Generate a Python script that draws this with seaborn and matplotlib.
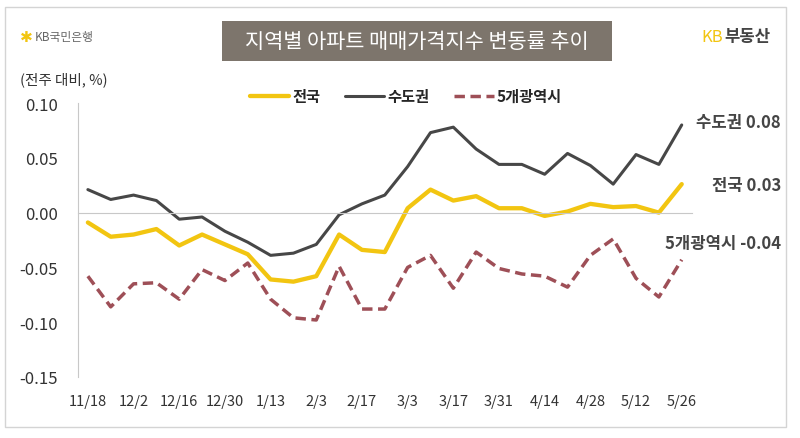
import numpy as np
import pandas as pd
import matplotlib
matplotlib.use("Agg")
import matplotlib.pyplot as plt
from matplotlib.patches import Rectangle
import seaborn as sns

# weekly change of apartment sale price index (%, vs previous week)
weeks = ["11/18", "11/25", "12/2", "12/9", "12/16", "12/23", "12/30", "1/6", "1/13", "1/20",
         "2/3", "2/10", "2/17", "2/24", "3/3", "3/10", "3/17", "3/24", "3/31", "4/7",
         "4/14", "4/21", "4/28", "5/5", "5/12", "5/19", "5/26"]
national = [-0.009, -0.022, -0.020, -0.015, -0.030, -0.020, -0.029, -0.038, -0.061, -0.063,
            -0.058, -0.020, -0.034, -0.036, 0.004, 0.021, 0.011, 0.015, 0.004, 0.004,
            -0.003, 0.001, 0.008, 0.005, 0.006, 0.000, 0.026]
capital = [0.021, 0.012, 0.016, 0.011, -0.006, -0.004, -0.017, -0.027, -0.039, -0.037,
           -0.029, -0.002, 0.008, 0.016, 0.042, 0.073, 0.078, 0.058, 0.044, 0.044,
           0.035, 0.054, 0.043, 0.026, 0.053, 0.044, 0.080]
metro5 = [-0.058, -0.086, -0.065, -0.064, -0.079, -0.052, -0.062, -0.046, -0.079, -0.096,
          -0.098, -0.049, -0.088, -0.088, -0.050, -0.039, -0.069, -0.036, -0.051, -0.056,
          -0.058, -0.068, -0.039, -0.024, -0.060, -0.077, -0.043]
series_names = ["전국", "수도권", "5개광역시"]
yticks = [-0.15, -0.10, -0.05, 0.00, 0.05, 0.10]

sns.set_style("white")
plt.rcParams["font.family"] = ["Noto Sans CJK KR", "DejaVu Sans"]

pos = np.arange(len(weeks))
df = pd.DataFrame({"pos": pos, "week": weeks, "전국": national, "수도권": capital, "5개광역시": metro5})

fig = plt.figure(figsize=(8, 4.39), dpi=100)
ax = fig.add_axes([0.097, 0.139, 0.768, 0.624])

styles = {
    "전국": dict(color="#F2C511", linewidth=3.1, linestyle="-"),
    "수도권": dict(color="#474747", linewidth=2.2, linestyle="-"),
    "5개광역시": dict(color="#9E4F57", linewidth=2.5, linestyle=(0, (3, 1.6))),
}
for name in series_names:
    sns.lineplot(data=df, x="pos", y=name, ax=ax, label=name, **styles[name])

ax.set_xlim(-0.45, len(weeks) - 0.55)
ax.set_ylim(-0.15, 0.10)
ax.set_yticks(yticks)
ax.set_yticklabels([f"{v:.2f}" for v in yticks])
ax.set_xlabel("")
ax.set_ylabel("")

for s in ["top", "right"]:
    ax.spines[s].set_visible(False)
ax.spines["left"].set_color("#c8c8c8")
ax.spines["bottom"].set_color("#c8c8c8")
ax.spines["bottom"].set_position(("data", 0))
ax.set_xticks([])
ax.set_xticks(np.arange(0.5, len(weeks) - 1), minor=True)
ax.tick_params(axis="x", which="minor", length=4, color="#c8c8c8", labelbottom=False)
ax.tick_params(axis="y", length=4, color="#c8c8c8", pad=10, labelsize=12, labelcolor="#333333")

sec = ax.secondary_xaxis("bottom")
sec.set_xticks(pos[::2])
sec.set_xticklabels(weeks[::2])
sec.tick_params(length=0, pad=12, labelsize=10.5, labelcolor="#333333")
sec.spines["bottom"].set_visible(False)

leg = ax.legend(loc="center", bbox_to_anchor=(0.534, 1.026), ncol=3, frameon=False,
                handlelength=2.6, handletextpad=0.2, columnspacing=1.6,
                prop={"size": 11, "weight": "bold"})

# end labels
last = {"수도권": capital[-1], "전국": national[-1], "5개광역시": metro5[-1]}
label_y = {"수도권": 0.72, "전국": 0.576, "5개광역시": 0.444}
for name in ["수도권", "전국", "5개광역시"]:
    fig.text(0.976, label_y[name], f"{name} {last[name]:.2f}", ha="right", va="center",
             fontsize=12, color="#454545", fontweight="bold")

# frame, title and logos
fig.patches.append(Rectangle((5 / 800, 1 - 428 / 439), 781 / 800, 420 / 439,
                             transform=fig.transFigure, fill=False, edgecolor="#d4d4d4", linewidth=1))
fig.patches.append(Rectangle((222 / 800, 1 - 62 / 439), 390 / 800, 40 / 439,
                             transform=fig.transFigure, facecolor="#7d756c", edgecolor="none"))
fig.text(0.521, 1 - 42 / 439, "지역별 아파트 매매가격지수 변동률 추이", ha="center", va="center",
         fontsize=15, color="white")
fig.text(0.025, 1 - 37 / 439, "✱", ha="left", va="center", fontsize=11, color="#F2C511",
         family="DejaVu Sans")
fig.text(0.043, 1 - 37 / 439, "KB국민은행", ha="left", va="center", fontsize=8.5, color="#666666")
fig.text(0.904, 1 - 37 / 439, "KB", ha="right", va="center", fontsize=12, color="#F2C511")
fig.text(0.906, 1 - 37 / 439, "부동산", ha="left", va="center", fontsize=12, color="#444444",
         fontweight="bold")
fig.text(0.025, 1 - 80 / 439, "(전주 대비, %)", ha="left", va="center", fontsize=10.5, color="#333333")

fig.savefig("out.png", dpi=100)
plt.close(fig)
